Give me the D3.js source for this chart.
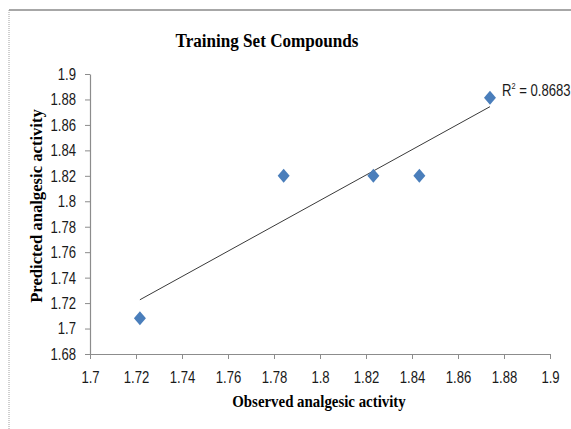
<!DOCTYPE html>
<html>
<head>
<meta charset="utf-8">
<script src="https://cdn.jsdelivr.net/npm/d3@7"></script>
<style>
  body { margin: 0; background: #fff; }
  svg { display: block; }
</style>
</head>
<body>
<svg></svg>
<script>
const w = 571
const h = 429

// observed vs predicted (training set)
const observed = [1.7217, 1.7842, 1.8232, 1.8432, 1.8739]
const predicted = [1.708, 1.820, 1.820, 1.820, 1.8814]
const xTicks = [1.7, 1.72, 1.74, 1.76, 1.78, 1.8, 1.82, 1.84, 1.86, 1.88, 1.9]
const yTicks = [1.68, 1.7, 1.72, 1.74, 1.76, 1.78, 1.8, 1.82, 1.84, 1.86, 1.88, 1.9]
const r2Label = '0.8683'

const data = observed.map((x, i) => ({x: x, y: predicted[i]}))

const svg = d3.select('svg')
  .attr('width', w)
  .attr('height', h);

const margin = {top: 74, right: 21, bottom: 75, left: 90};
const innerWidth = w - margin.left - margin.right;
const innerHeight = h - margin.top - margin.bottom;

const tickFont = "'Liberation Sans', Arial, sans-serif";
const titleFont = "'Liberation Serif', 'Times New Roman', serif";
const sq = 0.82; // the source uses a narrow font, squeeze ours

// chart frame (top solid, left dotted)
svg.append('line')
  .attr('x1', 9).attr('x2', w).attr('y1', 10).attr('y2', 10)
  .attr('stroke', '#8a8a8a').attr('stroke-width', 1.5);
svg.append('line')
  .attr('x1', 9).attr('x2', 9).attr('y1', 10).attr('y2', h)
  .attr('stroke', '#a0a0a0').attr('stroke-width', 1)
  .attr('stroke-dasharray', '1,1');

const xScale = d3.scaleLinear()
  .domain([1.7, 1.9])
  .range([0, innerWidth]);

const yScale = d3.scaleLinear()
  .domain([1.68, 1.9])
  .range([innerHeight, 0]);

const g = svg.append('g')
  .attr('transform', `translate(${margin.left}, ${margin.top})`);

const fmt = d => String(+d.toFixed(2));

const xAxisG = g.append('g')
  .attr('transform', `translate(0, ${innerHeight})`)
  .call(d3.axisBottom(xScale).tickValues(xTicks).tickSize(5).tickSizeOuter(0).tickFormat(fmt));

const yAxisG = g.append('g')
  .call(d3.axisLeft(yScale).tickValues(yTicks).tickSize(5).tickSizeOuter(0).tickFormat(fmt));

[xAxisG, yAxisG].forEach(a => {
  a.select('.domain').attr('stroke', '#8c8c8c').attr('stroke-width', 1.2);
  a.selectAll('.tick line').attr('stroke', '#8c8c8c');
  a.selectAll('.tick text')
    .attr('fill', '#1a1a1a')
    .attr('font-family', tickFont)
    .attr('font-size', '16px')
    .attr('transform', `scale(${sq},1)`);
});
xAxisG.selectAll('.tick text').attr('y', 29).attr('dy', 0);
yAxisG.selectAll('.tick text').attr('x', -14 / sq).attr('dy', '0.34em');

// least squares trend line
const mx = d3.mean(observed);
const my = d3.mean(predicted);
const slope = d3.sum(data, d => (d.x - mx) * (d.y - my)) / d3.sum(data, d => (d.x - mx) ** 2);
const icpt = my - slope * mx;
const xExt = d3.extent(observed);

g.append('line')
  .attr('x1', xScale(xExt[0])).attr('y1', yScale(icpt + slope * xExt[0]))
  .attr('x2', xScale(xExt[1])).attr('y2', yScale(icpt + slope * xExt[1]))
  .attr('stroke', '#3a3a3a').attr('stroke-width', 1);

// diamonds
g.selectAll('path.pt').data(data)
  .enter().append('path')
    .attr('class', 'pt')
    .attr('d', 'M0,-7L6,0L0,7L-6,0Z')
    .attr('transform', d => `translate(${xScale(d.x)}, ${yScale(d.y)})`)
    .attr('fill', '#4a7ebb');

// R squared label
const last = data[data.length - 1];
const r2 = g.append('text')
  .attr('transform', `translate(${xScale(last.x) + 12}, ${yScale(last.y) - 2}) scale(${sq},1)`)
  .attr('font-family', tickFont)
  .attr('font-size', '16px')
  .attr('fill', '#1a1a1a');
r2.append('tspan').text('R');
r2.append('tspan').text('2').attr('font-size', '9px').attr('dy', -7);
r2.append('tspan').text(' = ' + r2Label).attr('dy', 7);

// title + axis titles
svg.append('text')
  .attr('transform', 'translate(267, 47) scale(0.9,1)')
  .attr('text-anchor', 'middle')
  .attr('font-family', titleFont)
  .attr('font-weight', 'bold')
  .attr('font-size', '19px')
  .text('Training Set Compounds');

svg.append('text')
  .attr('transform', `translate(${margin.left + innerWidth / 2 - 1}, 407) scale(0.93,1)`)
  .attr('text-anchor', 'middle')
  .attr('font-family', titleFont)
  .attr('font-weight', 'bold')
  .attr('font-size', '16px')
  .text('Observed analgesic activity');

svg.append('text')
  .attr('transform', 'translate(42, 206) rotate(-90) scale(1.04,1)')
  .attr('text-anchor', 'middle')
  .attr('font-family', titleFont)
  .attr('font-weight', 'bold')
  .attr('font-size', '16px')
  .text('Predicted analgesic activity');
</script>
</body>
</html>
